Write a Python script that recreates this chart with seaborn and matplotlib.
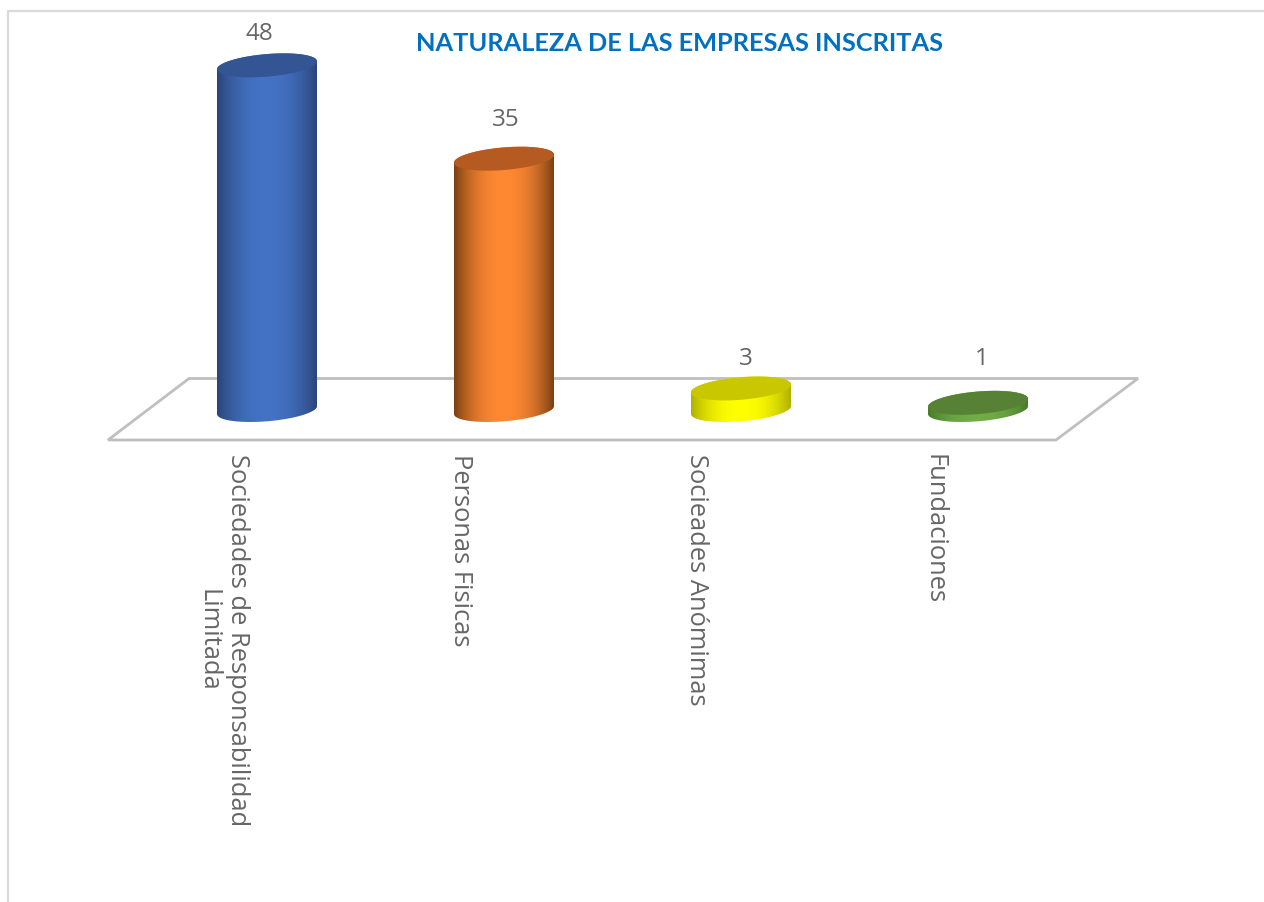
import numpy as np
import matplotlib
matplotlib.use("Agg")
import matplotlib.pyplot as plt
import seaborn as sns
from matplotlib.colors import LinearSegmentedColormap
from matplotlib.patches import PathPatch, Polygon
from matplotlib.path import Path
from matplotlib.transforms import ScaledTranslation

categories = ["Sociedades de Responsabilidad\nLimitada", "Personas Fisicas", "Socieades Anómimas", "Fundaciones"]
values = [48, 35, 3, 1]
body_colors = ["#4472C4", "#FF8833", "#FFFF00", "#70AD47"]
edge_colors = ["#2A4578", "#7A4113", "#B0B000", "#4A7A2A"]
cap_colors = ["#335593", "#B55A20", "#C9C800", "#578235"]
title = "NATURALEZA DE LAS EMPRESAS INSCRITAS"

W, H = 1264, 903
PX_X, PX_Y = 237.0, 7.18          # pixels per category / per unit
X0, Y0 = 267.0, 411.0             # pixel position of first bar's base centre

sns.set_theme(style="white")
plt.rcParams["font.family"] = ["Open Sans", "DejaVu Sans"]
fig = plt.figure(figsize=(W / 100, H / 100), dpi=100, facecolor="white")
ax = fig.add_axes([0, 0, 1, 1])

def dx(px): return (px - X0) / PX_X
def dy(py): return (Y0 - py) / PX_Y

sns.barplot(x=categories, y=values, hue=categories, palette=body_colors, width=100 / PX_X,
            saturation=1, legend=False, ax=ax, zorder=2, dodge=False)
bars = sorted(ax.patches, key=lambda b: b.get_x())
ax.set_xlim(dx(0), dx(W))
ax.set_ylim(dy(H), dy(0))

# chart frame (top and left edges)
ax.plot([dx(8), dx(8), dx(W)], [dy(H), dy(12), dy(12)], color="#D9D9D9", lw=1.6, zorder=0)

# floor
ax.add_patch(Polygon([(dx(189), dy(379.5)), (dx(1138), dy(379.5)), (dx(1056), dy(441)), (dx(108), dy(441))],
                     closed=True, fill=False, edgecolor="#BFBFBF", lw=2, zorder=1))

def ellipse_pts(cx, v, t):
    shear, b = 4.0, 11.3
    return np.column_stack([cx + (50 / PX_X) * np.cos(t),
                            v + (shear * np.cos(t) + b * np.sin(t)) / PX_Y])

for i, bar in enumerate(bars):
    cx = bar.get_x() + bar.get_width() / 2
    v = bar.get_height()
    front = ellipse_pts(cx, 0, np.linspace(np.pi, 2 * np.pi, 60))
    rear = ellipse_pts(cx, v, np.linspace(0, np.pi, 60))
    pts = np.vstack([front, rear, front[:1]])
    clip = PathPatch(Path(pts), transform=ax.transData, fc="none", ec="none")
    ax.add_patch(clip)
    bar.set_clip_path(clip)
    cmap = LinearSegmentedColormap.from_list("g", [edge_colors[i], body_colors[i], edge_colors[i]])
    g = np.linspace(0, 1, 256)[None, :]
    grad = 0.5 + 0.5 * np.sign(g - 0.5) * np.abs(2 * g - 1) ** 2.2
    im = ax.imshow(grad, cmap=cmap, aspect="auto", vmin=0, vmax=1, zorder=3,
                   extent=(cx - 50 / PX_X, cx + 50 / PX_X, -3, v + 3))
    im.set_clip_path(clip)
    ax.add_patch(Polygon(ellipse_pts(cx, v, np.linspace(0, 2 * np.pi, 120)), closed=True,
                         fc=cap_colors[i], ec="none", zorder=4))
ax.set_xlim(dx(0), dx(W))
ax.set_ylim(dy(H), dy(0))

# value labels
label_offsets = [(-8, 32), (2, 40), (5, 30), (4, 45)]
for i, bar in enumerate(bars):
    cx = bar.get_x() + bar.get_width() / 2
    ox, oy = label_offsets[i]
    ax.annotate(str(values[i]), (cx, bar.get_height()), xytext=(ox * 0.72, oy * 0.72),
                textcoords="offset points", ha="center", va="center",
                fontsize=17.5, color="#666666", zorder=5)

# category axis
ax.spines["bottom"].set_position(("data", dy(447)))
for s in ax.spines.values():
    s.set_visible(False)
ax.set_xticks(range(len(categories)))
ax.set_xticklabels(categories, rotation=-90, ha="center", va="top", ma="center", fontsize=18.4,
                   color="#666666", linespacing=1.24)
ax.tick_params(axis="x", length=0, pad=5, bottom=True)
ax.set_yticks([])
ax.grid(False)
shift = ScaledTranslation(-44 / 100, 0, fig.dpi_scale_trans)
for lab in ax.get_xticklabels():
    lab.set_transform(lab.get_transform() + shift)

ax.text(dx(679), dy(43), title, ha="center", va="center", fontsize=18.3, fontweight="bold",
        fontfamily="Lato", color="#0070C0")

fig.savefig("out.png", dpi=100, facecolor="white")
